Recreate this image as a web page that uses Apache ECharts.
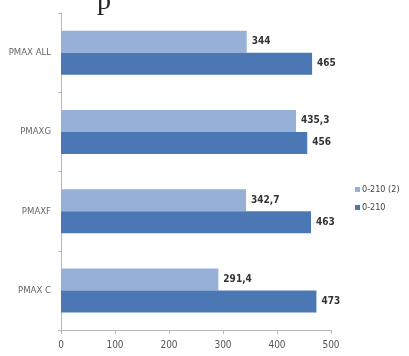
<!DOCTYPE html>
<html>
<head>
<meta charset="utf-8">
<script src="https://cdn.jsdelivr.net/npm/echarts@6/dist/echarts.min.js"></script>
<style>
  html, body { margin: 0; padding: 0; background: #fff; }
  #chart { width: 409px; height: 356px; }
</style>
</head>
<body>
<div id="chart"></div>
<script>
// Categories listed bottom-to-top (ECharts category y-axis starts at the bottom)
const categories = ['PMAX C', 'PMAXF', 'PMAXG', 'PMAX ALL'];
const seriesNames = ['0-210 (2)', '0-210'];
const valuesLight = [291.4, 342.7, 435.3, 344];   // 0-210 (2)
const valuesDark = [473, 463, 456, 465];          // 0-210
const xTicks = [0, 100, 200, 300, 400, 500];

const narrow = "'Liberation Sans Narrow', 'DejaVu Sans Condensed', sans-serif";
const fmt = p => String(p.value).replace('.', ',');

const chart = echarts.init(document.getElementById('chart'), null, { renderer: 'canvas' });
chart.setOption({
  animation: false,
  backgroundColor: '#ffffff',
  title: {
    text: 'p',
    left: 92,
    top: -17,
    textStyle: { fontFamily: "'Liberation Serif', 'DejaVu Serif', serif", fontSize: 28, fontWeight: 'normal', color: '#222' }
  },
  grid: { left: 61, right: 78, top: 13, bottom: 26 },
  legend: {
    data: seriesNames,
    orient: 'vertical',
    left: 350,
    top: 180,
    itemWidth: 5,
    itemHeight: 5,
    itemGap: 9,
    icon: 'rect',
    textStyle: { fontFamily: narrow, fontSize: 9, color: '#444', padding: [0, 0, 0, -3] }
  },
  xAxis: {
    type: 'value',
    min: xTicks[0],
    max: xTicks[xTicks.length - 1],
    interval: 100,
    axisLine: { show: true, lineStyle: { color: '#b8b8b8' } },
    axisTick: { show: true, length: 4, lineStyle: { color: '#b8b8b8' } },
    splitLine: { show: false },
    axisLabel: { fontFamily: narrow, fontSize: 10, color: '#555', margin: 10 }
  },
  yAxis: {
    type: 'category',
    data: categories,
    axisLine: { show: true, lineStyle: { color: '#b8b8b8' } },
    axisTick: { show: true, length: 3, lineStyle: { color: '#b8b8b8' } },
    axisLabel: { fontFamily: narrow, fontSize: 9.5, color: '#666', margin: 10 }
  },
  series: [
    {
      name: seriesNames[0],
      type: 'bar',
      data: valuesLight,
      barWidth: 22,
      barGap: '0%',
      itemStyle: { color: '#97b0d8' },
      label: { show: true, position: 'right', distance: 5, formatter: fmt, fontFamily: narrow, fontSize: 10, fontWeight: 'bold', color: '#333' }
    },
    {
      name: seriesNames[1],
      type: 'bar',
      data: valuesDark,
      barWidth: 22,
      barGap: '0%',
      itemStyle: { color: '#4b78b4' },
      label: { show: true, position: 'right', distance: 5, formatter: fmt, fontFamily: narrow, fontSize: 10, fontWeight: 'bold', color: '#333' }
    }
  ]
});
</script>
</body>
</html>
